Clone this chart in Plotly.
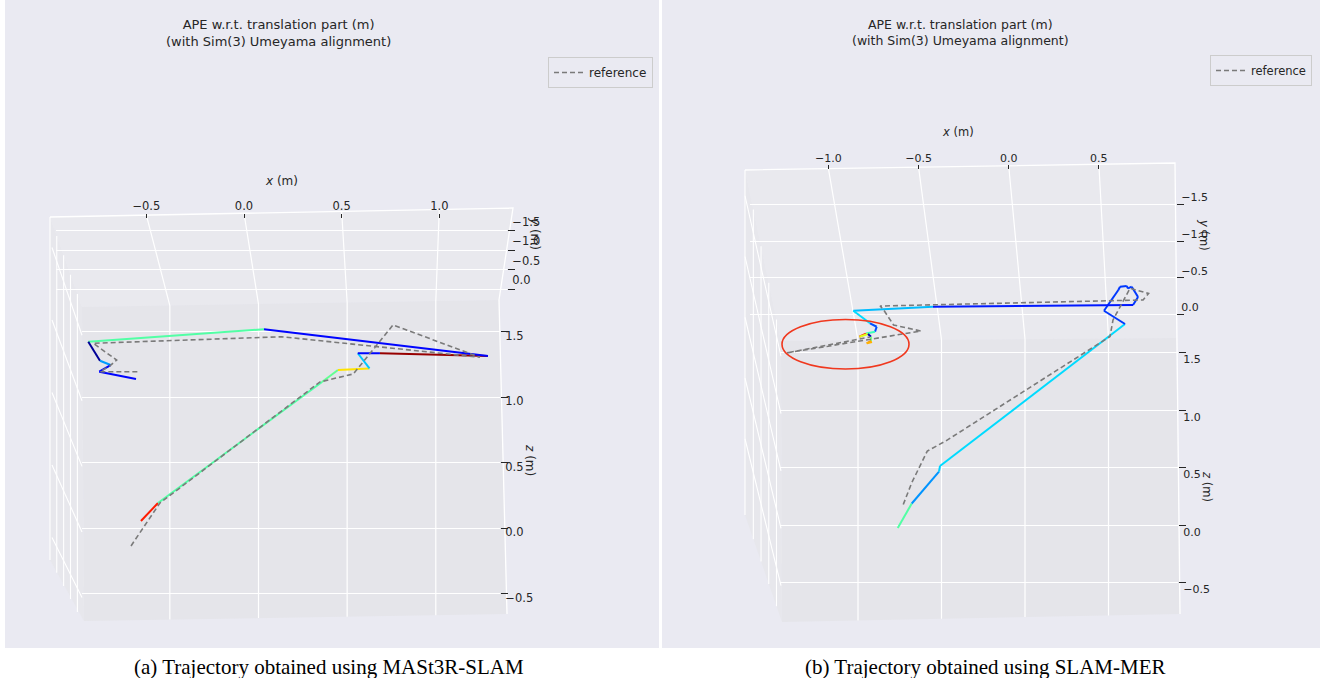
import numpy as np
import plotly.graph_objects as go

# ---------------- data ----------------
# (a) MASt3R-SLAM : estimated trajectory (x, z in m), APE colour value per point, reference
A_EST_X = [-0.663, -0.567, 0.358, 0.448, 0.626, 0.560, 0.685, 1.294, 0.031, -0.960, -0.894, -0.834, -0.898, -0.691]
A_EST_Z = [0.053, 0.191, 1.115, 1.206, 1.218, 1.334, 1.334, 1.313, 1.517, 1.422, 1.277, 1.244, 1.193, 1.137]
A_APE = [0.88, 0.45, 0.47, 0.67, 0.32, 0.13, 0.98, 0.13, 0.45, 0.02, 0.28, 0.13, 0.13, 0.13]
A_REF_X = [-0.719, -0.556, 0.347, 0.535, 0.759, 1.249, 0.131, -0.932, -0.800, -0.838, -0.894, -0.668]
A_REF_Z = [-0.137, 0.191, 1.115, 1.176, 1.550, 1.303, 1.460, 1.410, 1.282, 1.237, 1.193, 1.193]

# (b) SLAM-MER
B_EST_X = [-0.762, -0.678, -0.515, -0.509, 0.599, 0.473, 0.559, 0.569, 0.609, 0.617, 0.639, 0.677, 0.647,
           -0.551, -1.028, -0.928, -0.888, -0.898, -0.952, -0.992, -0.940, -0.922, -0.922, -0.948, -0.916]
B_EST_Z = [-0.026, 0.187, 0.464, 0.513, 1.748, 1.863, 2.043, 2.072, 2.078, 2.057, 2.072, 1.983, 1.913,
           1.898, 1.863, 1.754, 1.724, 1.681, 1.665, 1.637, 1.661, 1.637, 1.600, 1.580, 1.591]
B_APE = [0.45, 0.27, 0.33, 0.34, 0.18, 0.18, 0.18, 0.18, 0.18, 0.18, 0.18, 0.18, 0.15,
         0.31, 0.34, 0.20, 0.20, 0.42, 0.88, 0.62, 0.05, 0.50, 0.75, 0.72, 0.72]
B_REF_X = [-0.729, -0.678, -0.585, -0.473, 0.509, 0.527, 0.629, 0.740, 0.707, -0.868, -0.850, -0.787, -0.623, -1.428, -0.928]
B_REF_Z = [0.178, 0.368, 0.643, 0.732, 1.639, 1.783, 2.058, 2.013, 1.957, 1.904, 1.878, 1.739, 1.687, 1.496, 1.635]

X_TICKS_A = [-0.5, 0.0, 0.5, 1.0]
X_TICKS_B = [-1.0, -0.5, 0.0, 0.5]
Y_TICKS = [-1.5, -1.0, -0.5, 0.0]
Z_TICKS = [-0.5, 0.0, 0.5, 1.0, 1.5]

TITLE = "APE w.r.t. translation part (m)<br>(with Sim(3) Umeyama alignment)"
CAPTIONS = ["(a) Trajectory obtained using MASt3R-SLAM", "(b) Trajectory obtained using SLAM-MER"]
LEGEND_LABEL = "reference"

# ---------------- helpers ----------------
W, H = 1320, 678
FONT = "DejaVu Sans"
TXT = "#262626"


def fx(px):
    return px / W


def fy(py):
    return 1 - py / H


def fmt(v):
    return f"{v:.1f}".replace("-", "\u2212")


_JET = {
    "r": ([0, 0.35, 0.66, 0.89, 1], [0, 0, 1, 1, 0.5]),
    "g": ([0, 0.125, 0.375, 0.64, 0.91, 1], [0, 0, 1, 1, 0, 0]),
    "b": ([0, 0.11, 0.34, 0.65, 1], [0.5, 1, 1, 0, 0]),
}


def jet(t):
    r, g, b = (float(np.interp(t, *_JET[c])) for c in "rgb")
    return f"rgb({round(r*255)},{round(g*255)},{round(b*255)})"


def path(pts, closed=True):
    s = "M " + " L ".join(f"{fx(x):.5f},{fy(y):.5f}" for x, y in pts)
    return s + (" Z" if closed else "")


def on_edge(x, p0, p1):
    """y pixel of the straight edge p0-p1 at pixel x."""
    t = (x - p0[0]) / (p1[0] - p0[0])
    return p0[1] + t * (p1[1] - p0[1])


# pixel geometry of each panel (layout only)
PANELS = [
    dict(
        name="a", bg=(5, 659), title_x=278, title_fs=13, tick_fs=11.5, leg_fs=12,
        est=(A_EST_X, A_EST_Z, A_APE), ref=(A_REF_X, A_REF_Z), xticks=X_TICKS_A,
        main=dict(L=82, R=500, T=212, B=620, x0=258.5, xs=177.3, z0=528, zs=131, shift=4),
        band=dict(L=56, R=507, T=213.5, B=300, x0=244, xs=195.3, y0=289, ys=38.67, shift=9),
        front_edge=((50, 217), (513, 208)), back_top=((82, 307), (499, 300)), back_bot=((84, 621), (507, 614)),
        band_poly=[(50, 217), (513, 208), (499, 300), (82, 307)],
        back_poly=[(82, 307), (499, 300), (507, 614), (84, 621)],
        left_poly=[(50, 217), (82, 307), (84, 621), (50, 560)],
        left_front=(50, 217, 560), left_slope=(32 / 90), left_bot=(560, 1.9),
        zline=((52, 465, 145), (82, 532, 131.2)),
        edges=[[(50, 217), (513, 208), (499, 300), (507, 614)]],
        xtitle=(281, 181), ytitle=(535, 233), ztitle=(530, 460),
        legend=dict(x=653, y=57), caption_x=329,
    ),
    dict(
        name="b", bg=(662, 1320), title_x=960, title_fs=12.5, tick_fs=11, leg_fs=11.5,
        est=(B_EST_X, B_EST_Z, B_APE), ref=(B_REF_X, B_REF_Z), xticks=X_TICKS_B,
        main=dict(L=780, R=1178, T=163, B=620, x0=1025, xs=167, z0=525, zs=115, shift=7),
        band=dict(L=750, R=1176, T=165, B=340, x0=1008.7, xs=180.3, y0=314.5, ys=73.3, shift=7),
        front_edge=((745, 170), (1175, 163)), back_top=((781, 341), (1176, 338)), back_bot=((782, 622), (1180, 614)),
        band_poly=[(745, 170), (1175, 163), (1176, 338), (781, 341)],
        back_poly=[(781, 341), (1176, 338), (1180, 614), (782, 622)],
        left_poly=[(745, 170), (781, 341), (782, 622), (745, 515)],
        left_front=(745, 170, 515), left_slope=(36 / 171), left_bot=(515, 2.9),
        zline=((745, 378, 121.5), (781, 528.3, 114.7)),
        edges=[[(745, 170), (1175, 163), (1180, 614)]],
        xtitle=(958, 132), ytitle=(1204, 235), ztitle=(1207, 486),
        legend=dict(x=1312, y=55), caption_x=985,
    ),
]

fig = go.Figure()
shapes = []
annotations = []
layout_axes = {}
legends = {}
WHITE = dict(color="white", width=1.1)

# band subplots get the low axis numbers so their grids sit under the trajectories
for i, p in enumerate(PANELS):
    bx, by = f"x{2*i+1}", f"y{2*i+1}"   # band (top pane)
    mx, my = f"x{2*i+2}", f"y{2*i+2}"   # main (back pane)
    b, m = p["band"], p["main"]
    tickfont = dict(family=FONT, size=p["tick_fs"], color=TXT)

    def key(a):
        return a[0] + "axis" + (a[1:] if a[1:] != "1" else "")

    layout_axes[key(bx)] = dict(
        domain=[fx(b["L"]), fx(b["R"])], range=[(b["L"] - b["x0"]) / b["xs"], (b["R"] - b["x0"]) / b["xs"]],
        anchor=by, side="top", tickmode="array", tickvals=p["xticks"], ticktext=[fmt(v) for v in p["xticks"]],
        ticks="inside", ticklen=4, tickwidth=1.3, tickcolor=TXT, tickfont=tickfont,
        showgrid=False, zeroline=False, showline=False, fixedrange=True)
    layout_axes[key(by)] = dict(
        domain=[fy(b["B"]), fy(b["T"])], range=[(b["B"] - b["y0"]) / b["ys"], (b["T"] - b["y0"]) / b["ys"]],
        anchor=bx, side="right", tickmode="array", tickvals=Y_TICKS, ticktext=[fmt(v) for v in Y_TICKS],
        ticks="outside", ticklen=7, tickwidth=1.3, tickcolor=TXT, tickfont=tickfont,
        ticklabelshift=b["shift"], ticklabelstandoff=-5,
        showgrid=True, gridcolor="white", gridwidth=1.2, zeroline=False, showline=False, fixedrange=True)
    layout_axes[key(mx)] = dict(
        domain=[fx(m["L"]), fx(m["R"])], range=[(m["L"] - m["x0"]) / m["xs"], (m["R"] - m["x0"]) / m["xs"]],
        anchor=my, tickmode="array", tickvals=p["xticks"], showticklabels=False, ticks="",
        showgrid=False, zeroline=False, showline=False, fixedrange=True)
    layout_axes[key(my)] = dict(
        domain=[fy(m["B"]), fy(m["T"])], range=[(m["z0"] - m["B"]) / m["zs"], (m["z0"] - m["T"]) / m["zs"]],
        anchor=mx, side="right", tickmode="array", tickvals=Z_TICKS, ticktext=[fmt(v) for v in Z_TICKS],
        ticks="outside", ticklen=7, tickwidth=1.3, tickcolor=TXT, tickfont=tickfont,
        ticklabelshift=m["shift"], ticklabelstandoff=-5,
        showgrid=True, gridcolor="white", gridwidth=1.2, zeroline=False, showline=False, fixedrange=True)

    # empty trace so the band subplot is created first
    fig.add_trace(go.Scatter(x=[], y=[], xaxis=bx, yaxis=by, showlegend=False, hoverinfo="skip"))

    # ---------- panes & decorations ----------
    x0b, x1b = p["bg"]
    shapes.append(dict(type="rect", xref="paper", yref="paper", x0=fx(x0b), x1=fx(x1b), y0=fy(648), y1=fy(0),
                       fillcolor="#eaeaf2", line=dict(width=0), layer="below"))
    for poly, col in ((p["left_poly"], "#e7e7ec"), (p["band_poly"], "#e9e9ee"), (p["back_poly"], "#e5e5ea")):
        shapes.append(dict(type="path", xref="paper", yref="paper", path=path(poly), fillcolor=col,
                           line=dict(width=0), layer="below"))
    # x grid lines: slanted across the top pane, then down the back pane
    for v in p["xticks"]:
        xf = b["x0"] + v * b["xs"]
        xb = m["x0"] + v * m["xs"]
        pts = [(xf, on_edge(xf, *p["front_edge"])), (xb, on_edge(xb, *p["back_top"])),
               (xb, on_edge(xb, *p["back_bot"]))]
        shapes.append(dict(type="path", xref="paper", yref="paper", path=path(pts, closed=False),
                           line=dict(color="white", width=1.2), layer="below"))
    # side pane grid
    lf_x, lf_top, lf_bot = p["left_front"]
    bot0, bslope = p["left_bot"]
    shapes.append(dict(type="line", xref="paper", yref="paper", x0=fx(lf_x), x1=fx(lf_x),
                       y0=fy(lf_top), y1=fy(lf_bot), line=WHITE, layer="below"))
    for v in Y_TICKS:
        yt = b["y0"] + v * b["ys"] + 5
        xv = lf_x + (yt - lf_top) * p["left_slope"]
        yb = bot0 + (xv - lf_x) * bslope
        shapes.append(dict(type="line", xref="paper", yref="paper", x0=fx(xv), x1=fx(xv),
                           y0=fy(yt), y1=fy(yb), line=WHITE, layer="below"))
    (fxp, fy0, fs), (bxp, by0, bs) = p["zline"]
    for z in Z_TICKS:
        shapes.append(dict(type="line", xref="paper", yref="paper", x0=fx(fxp), y0=fy(fy0 - fs * z),
                           x1=fx(bxp), y1=fy(by0 - bs * z), line=WHITE, layer="below"))
    for e in p["edges"]:
        shapes.append(dict(type="path", xref="paper", yref="paper", path=path(e, closed=False),
                           line=dict(color="white", width=1.3), layer="below"))

    # ---------- traces ----------
    ex, ez, ape = p["est"]
    for k in range(len(ex) - 1):
        fig.add_trace(go.Scatter(x=ex[k:k + 2], y=ez[k:k + 2], mode="lines", xaxis=mx, yaxis=my,
                                 line=dict(color=jet(ape[k]), width=2), showlegend=False, hoverinfo="skip"))
    rx, rz = p["ref"]
    leg_name = "legend" if i == 0 else "legend2"
    fig.add_trace(go.Scatter(x=rx, y=rz, mode="lines", xaxis=mx, yaxis=my, name=LEGEND_LABEL,
                             line=dict(color="#7a7a7a", width=1.6, dash="5px,3px"),
                             legend=leg_name, showlegend=True, hoverinfo="skip"))
    legends[leg_name] = dict(
        x=fx(p["legend"]["x"]), xanchor="right", y=fy(p["legend"]["y"]), yanchor="top",
        bgcolor="#eaeaf2", bordercolor="#cccccc", borderwidth=1, itemwidth=30,
        font=dict(family=FONT, size=p["leg_fs"], color=TXT))

    # ---------- texts ----------
    annotations.append(dict(text=TITLE, x=fx(p["title_x"]), y=fy(33), xref="paper", yref="paper",
                            showarrow=False, xanchor="center", yanchor="middle", align="center",
                            font=dict(family=FONT, size=p["title_fs"], color=TXT)))
    for txt, pos, ang in (("<i>x</i> (m)", p["xtitle"], 0), ("<i>y</i> (m)", p["ytitle"], 90),
                          ("<i>z</i> (m)", p["ztitle"], 90)):
        annotations.append(dict(text=txt, x=fx(pos[0]), y=fy(pos[1]), xref="paper", yref="paper",
                                showarrow=False, xanchor="center", yanchor="middle", textangle=ang,
                                font=dict(family=FONT, size=p["tick_fs"] + 0.5, color=TXT)))
    annotations.append(dict(text=CAPTIONS[i], x=fx(p["caption_x"]), y=fy(667), xref="paper", yref="paper",
                            showarrow=False, xanchor="center", yanchor="middle",
                            font=dict(family="Liberation Serif", size=21, color="black")))

# red highlight ellipse in panel (b)
shapes.append(dict(type="circle", xref="paper", yref="paper", x0=fx(782), x1=fx(909), y0=fy(369), y1=fy(319.5),
                   line=dict(color="#f0381e", width=1.6), layer="above"))

fig.update_layout(
    width=W, height=H, margin=dict(l=0, r=0, t=0, b=0), autosize=False,
    paper_bgcolor="white", plot_bgcolor="rgba(0,0,0,0)",
    shapes=shapes, annotations=annotations, showlegend=True, hovermode=False,
    **layout_axes, **legends,
)

fig.write_html("out.html", config={"displayModeBar": False},
               post_script="document.body.style.margin='0';document.body.style.overflow='hidden';")
